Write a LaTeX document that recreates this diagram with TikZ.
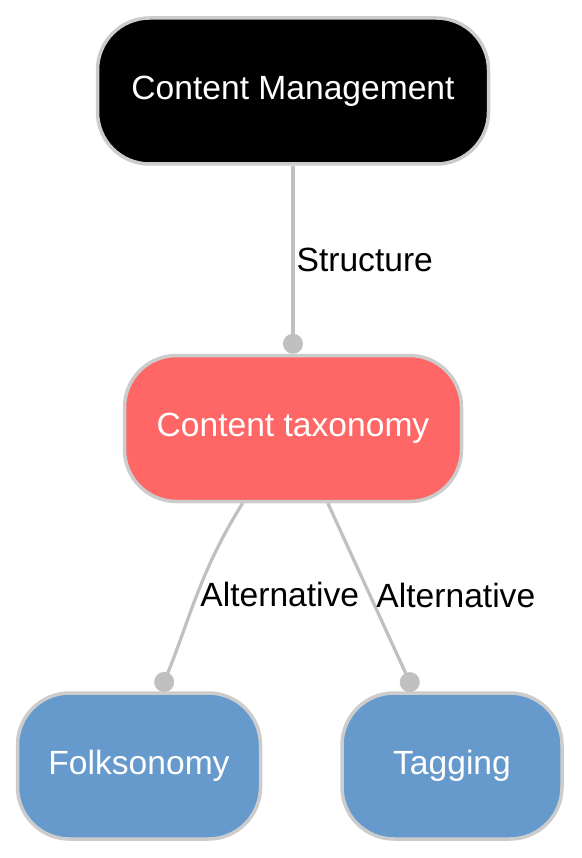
\documentclass[tikz,border=0pt]{standalone}
\usepackage{fontspec}
\setmainfont{Liberation Sans}
\usepackage{xcolor}
\usetikzlibrary{arrows.meta, positioning}
\definecolor{taxborder}{HTML}{CCCCCC}
\definecolor{taxedge}{HTML}{C0C0C0}
\definecolor{taxred}{HTML}{FF6666}
\definecolor{taxblue}{HTML}{6699CC}

\begin{document}
\begin{tikzpicture}[
    x=1pt, y=1pt,
    node distance=188pt,
    topic/.style={
      rectangle, rounded corners=52pt, draw=taxborder, line width=3.5pt,
      text=white, font=\fontsize{33.6}{40}\selectfont,
      minimum height=146pt, align=center, inner sep=0pt
    },
    conn/.style={-{Circle[length=20pt]}, taxedge, line width=3.2pt},
    lbl/.style={font=\fontsize{33.6}{40}\selectfont, text=black, inner sep=2pt},
  ]
  \useasboundingbox (0,0) rectangle (581,-858);

  \node[topic, fill=black, minimum width=391pt] (cm) at (293,-91) {Content Management};
  \node[topic, fill=taxred, minimum width=337pt, below=of cm] (tax) {Content taxonomy};
  \node[topic, fill=taxblue, minimum width=243pt, below=of tax, xshift=-154pt] (fol) {Folksonomy};
  \node[topic, fill=taxblue, minimum width=220pt, below=of tax, xshift=159pt] (tag) {Tagging};

  \draw[conn] (cm) -- node[lbl, midway, right] {Structure} (tax);
  \draw[conn] (tax.236) to[out=-122, in=68] node[lbl, pos=0.5, right] {Alternative} (fol.74);
  \draw[conn] (tax.295) -- node[lbl, pos=0.5, right, xshift=2pt, yshift=2pt] {Alternative} (tag.117);
\end{tikzpicture}
\end{document}
